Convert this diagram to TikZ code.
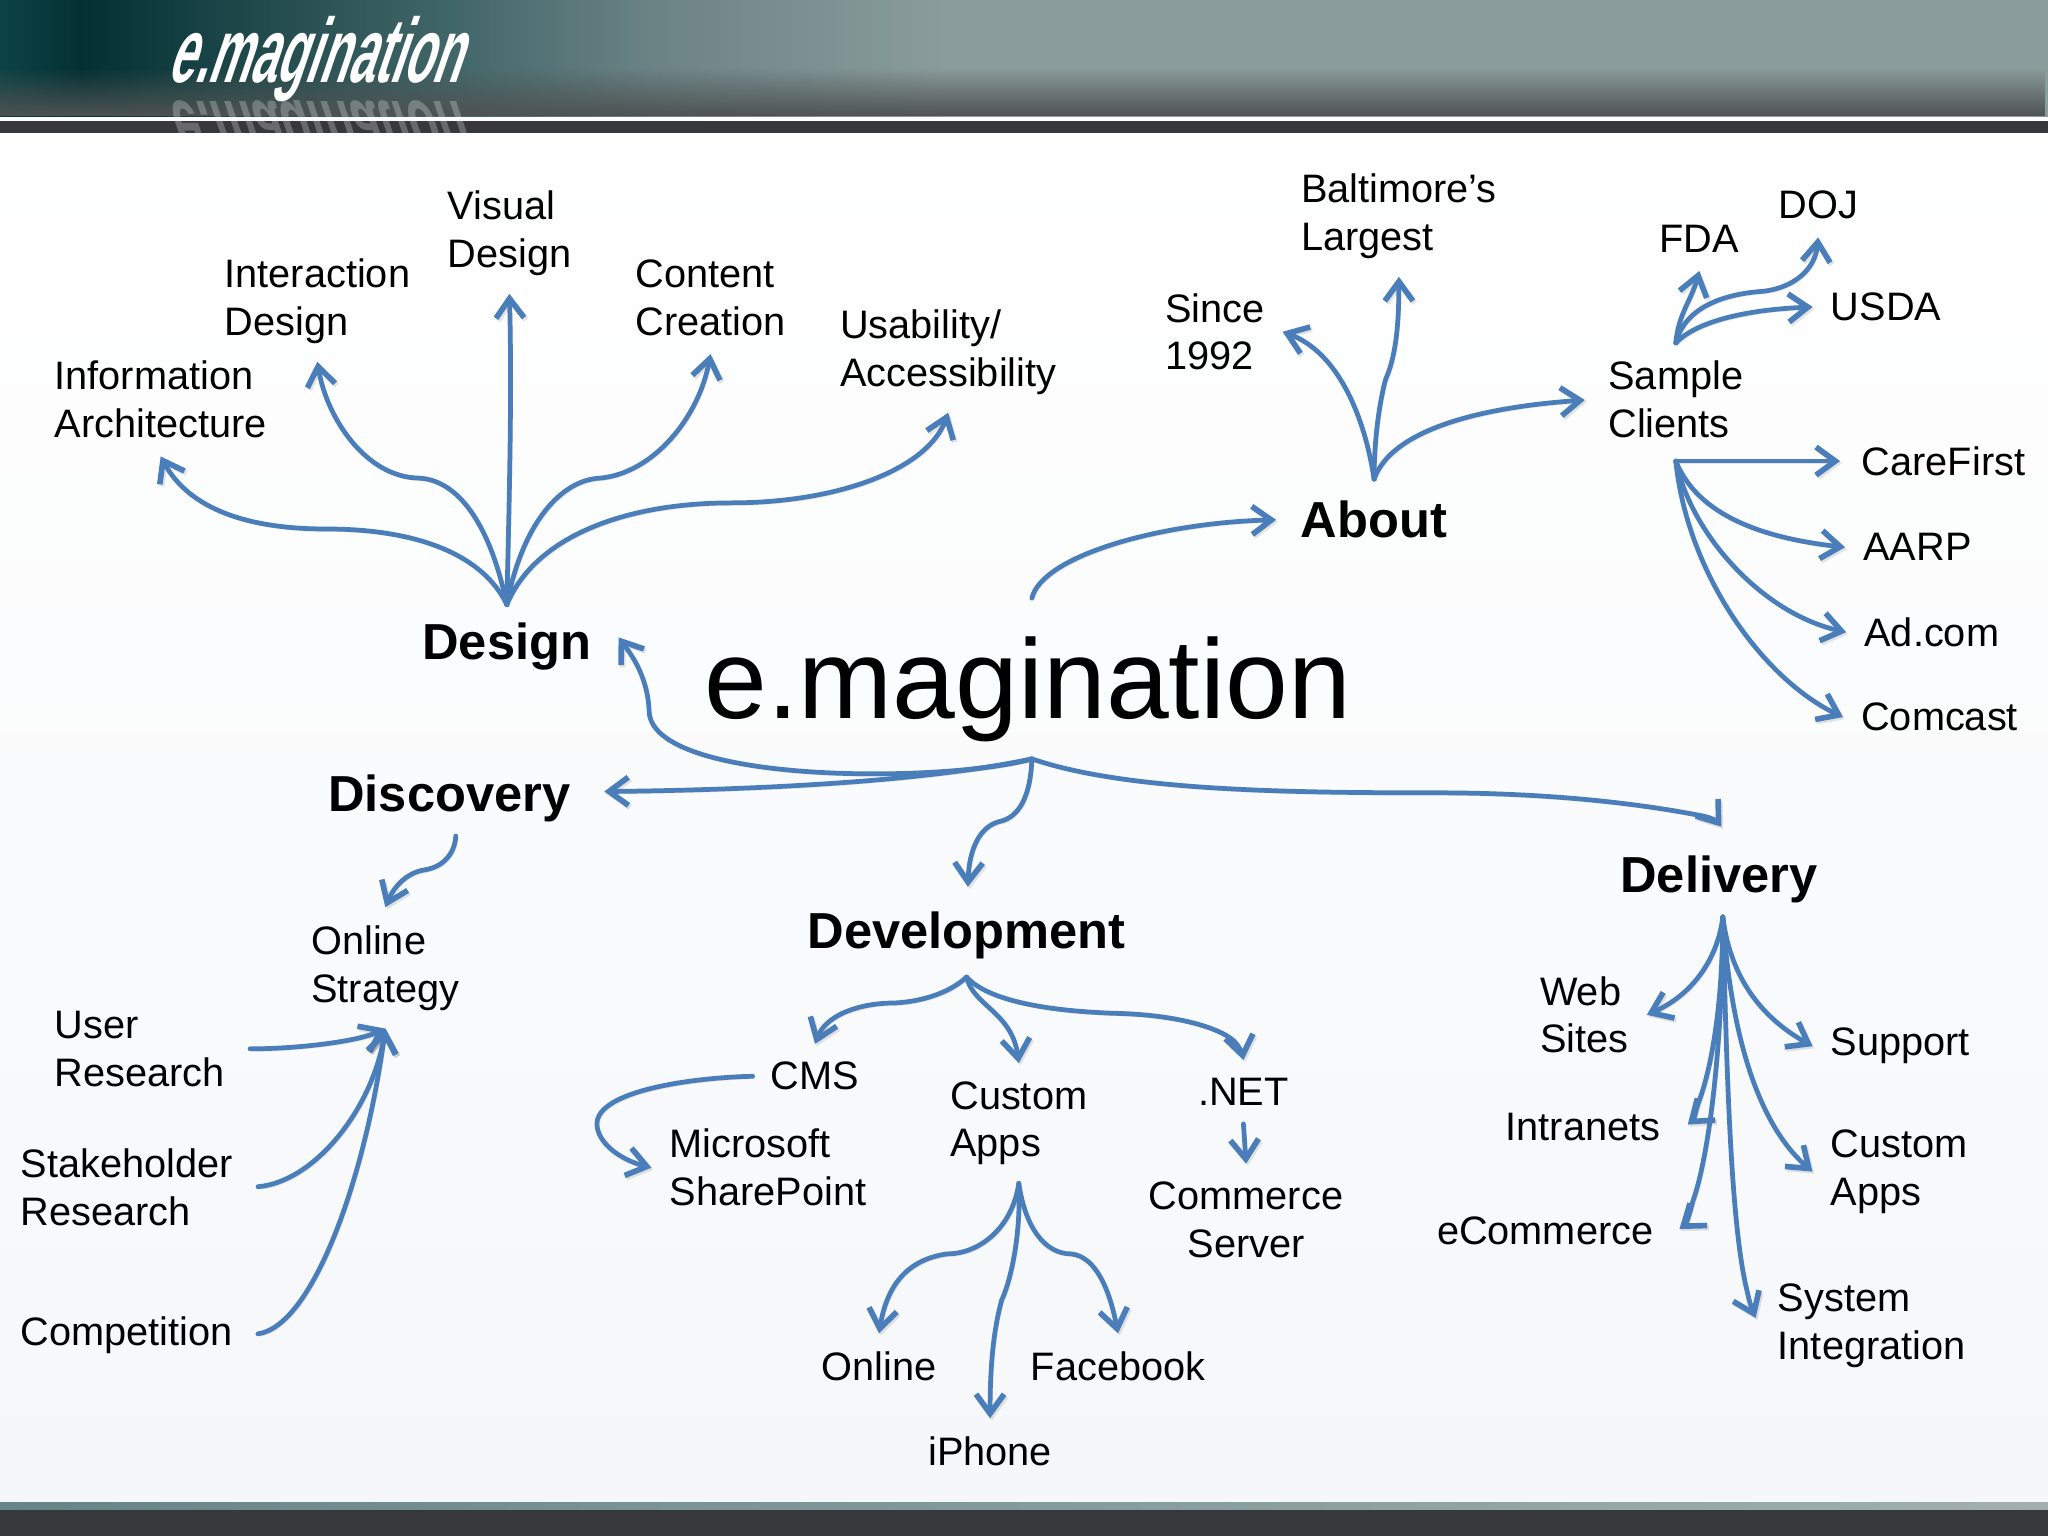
\documentclass[tikz,border=0pt]{standalone}
\usepackage{fontspec}
\usetikzlibrary{arrows.meta,fadings,calc}
\setmainfont{Liberation Sans}
\newfontfamily\logofont[FakeSlant=0.34,FakeStretch=0.52]{Liberation Sans Bold}
\definecolor{linkblue}{HTML}{4A7EBB}
\definecolor{bardark}{HTML}{36383A}
\definecolor{bodylow}{HTML}{F5F7F9}
\definecolor{fadegrey}{HTML}{4E5352}
\definecolor{banda}{HTML}{0D4345}
\definecolor{bandb}{HTML}{033033}
\definecolor{bandc}{HTML}{416668}
\definecolor{bandd}{HTML}{6C8386}
\definecolor{bande}{HTML}{8A9C9B}
\pgfdeclarehorizontalshading{bandshade}{100bp}{color(0bp)=(banda);color(25bp)=(banda);color(27bp)=(bandb);color(36bp)=(bandc);color(41bp)=(bandd);color(48bp)=(bande);color(100bp)=(bande)}
\begin{document}
\begin{tikzpicture}[x=0.1306mm,y=-0.1306mm,
    lbl/.style={inner sep=5pt,align=left,font=\fontsize{11.3}{13.6}\selectfont},
    head/.style={inner sep=5pt,font=\fontsize{14.4}{17}\selectfont\bfseries},
    link/.style={draw=linkblue,line width=1.35pt,line cap=round,-{Straight Barb[length=5.5pt,width=8pt,line width=1.6pt]},
        preaction={draw=black,opacity=0.1,transform canvas={xshift=0.5pt,yshift=-0.6pt}}}]
    \useasboundingbox (0,0) rectangle (1568,1176);
    \shade[top color=white,bottom color=bodylow] (0,100) rectangle (1568,1150);
    \shade[shading=bandshade] (0,0) rectangle (1568,89);
    \fill[fadegrey,path fading=north] (0,52) rectangle (1568,89);
    \fill[bardark] (0,92.5) rectangle (1568,102);
    \shade[left color=bandc!80!white,right color=bande!80!white] (0,1150) rectangle (1568,1156);
    \fill[bardark] (0,1156) rectangle (1568,1176);
    \node[inner sep=0pt,anchor=base west,text=white,font=\logofont\fontsize{26}{26}\selectfont] (logo) at (127,63) {e.magination};
    \begin{scope}
        \clip (0,77) rectangle (1568,102);
        \node[inner sep=0pt,anchor=base west,text=white,opacity=0.25,font=\logofont\fontsize{26}{26}\selectfont] (logoecho) at (127,78) {\scalebox{1}[-1]{e.magination}};
    \end{scope}
    \node[inner sep=0pt,font=\fontsize{32.1}{36}\selectfont] (emag) at (787,528) {e.magination};
    \coordinate (emagtop) at (790,458);
    \coordinate (emaghub) at (790,581);
    \node[head] (design) at (388,495) {Design};
    \node[head] (about) at (1052,398) {About};
    \node[head] (discovery) at (344,611) {Discovery};
    \node[head] (development) at (740,716) {Development};
    \node[head] (delivery) at (1316,673) {Delivery};
    \coordinate (abouthub) at ($(about.north)+(0,-3)$);
    \coordinate (deliveryhub) at ($(delivery.south)+(3,-3)$);
    \node[lbl] (infoarch) at (123,306) {Information\\Architecture};
    \node[lbl] (interaction) at (243,230.5) {Interaction\\Design};
    \node[lbl] (visual) at (390,178.5) {Visual\\Design};
    \node[lbl] (content) at (544,228) {Content\\Creation};
    \node[lbl] (usability) at (726,269.5) {Usability/\\Accessibility};
    \node[lbl] (since) at (930,254) {Since\\1992};
    \node[lbl] (largest) at (1071,165.5) {Baltimore’s\\Largest};
    \node[lbl] (sample) at (1283,306) {Sample\\Clients};
    \node[lbl] (fda) at (1301,183) {FDA};
    \node[lbl] (doj) at (1392,157) {DOJ};
    \node[lbl] (usda) at (1444,235) {USDA};
    \node[lbl] (carefirst) at (1488,353) {CareFirst};
    \node[lbl] (aarp) at (1468,419) {AARP};
    \node[lbl] (adcom) at (1479,484) {Ad.com};
    \node[lbl] (comcast) at (1485,549) {Comcast};
    \coordinate (samplelow) at (sample.south |- carefirst.west);
    \node[lbl] (strategy) at (295,741) {Online\\Strategy};
    \node[lbl] (user) at (107,803) {User\\Research};
    \node[lbl] (stake) at (97,909) {Stakeholder\\Research};
    \node[lbl] (competition) at (97,1022) {Competition};
    \node[lbl] (cms) at (624,824) {CMS};
    \node[lbl] (sharepoint) at (588,894) {Microsoft\\SharePoint};
    \node[lbl] (customdev) at (780,860) {Custom\\Apps};
    \node[lbl] (net) at (952,836) {.NET};
    \node[lbl,align=center] (commerce) at (954,934) {Commerce\\Server};
    \node[lbl] (online) at (673,1046) {Online};
    \node[lbl] (facebook) at (856,1046) {Facebook};
    \node[lbl] (iphone) at (758,1111) {iPhone};
    \node[lbl] (web) at (1213,777) {Web\\Sites};
    \node[lbl] (intranets) at (1212,863) {Intranets};
    \node[lbl] (ecommerce) at (1183,942) {eCommerce};
    \node[lbl] (support) at (1455,801) {Support};
    \node[lbl] (customdel) at (1454,897) {Custom\\Apps};
    \node[lbl] (system) at (1433,1015) {System\\Integration};
    \draw[link] (emagtop) .. controls (798,425) and (890,400) .. ($(about.west)+(-5,0)$);
    \draw[link] (emaghub) .. controls (720,600) and (500,600) .. (497,545) .. controls (496,515) and (480,497) .. ($(design.east)+(7,-7)$);
    \draw[link] (emaghub) .. controls (700,600) and (560,605) .. ($(discovery.east)+(12,-5)$);
    \draw[link] (emaghub) .. controls (789,610) and (780,626) .. (765,629) .. controls (750,633) and (742,650) .. ($(development.north)+(1,-5)$);
    \draw[link] (emaghub) .. controls (860,605) and (980,607) .. (1100,607) .. controls (1200,607) and (1270,618) .. (1305,625) .. controls (1310,626) and (1315,629) .. ($(delivery.north)+(2,-8)$);
    \draw[link] (design.north) .. controls (370,425) and (320,405) .. (250,405) .. controls (190,405) and (145,390) .. (infoarch.south);
    \draw[link] (design.north) .. controls (375,400) and (350,367) .. (320,366) .. controls (280,365) and (250,320) .. (interaction.south);
    \draw[link] (design.north) .. controls (390,380) and (392,300) .. (visual.south);
    \draw[link] (design.north) .. controls (400,400) and (430,367) .. (460,366) .. controls (500,362) and (535,320) .. (content.south);
    \draw[link] (design.north) .. controls (410,410) and (480,385) .. (560,385) .. controls (640,385) and (710,360) .. (usability.south);
    \draw[link] (abouthub) .. controls (1045,320) and (1025,270) .. (since.east);
    \draw[link] (abouthub) .. controls (1052,330) and (1058,300) .. (1061,290) .. controls (1070,270) and (1071,240) .. (largest.south);
    \draw[link,shorten >=1.5pt] (abouthub) .. controls (1065,330) and (1130,312) .. (sample.west);
    \draw[link] (sample.north) .. controls (1285,240) and (1295,230) .. (fda.south);
    \draw[link] (sample.north) .. controls (1290,235) and (1320,225) .. (1350,223) .. controls (1375,220) and (1390,205) .. (doj.south);
    \draw[link] (sample.north) .. controls (1300,245) and (1340,237) .. (usda.west);
    \draw[link,shorten >=1pt] (samplelow) -- (carefirst.west);
    \draw[link] (samplelow) .. controls (1300,395) and (1350,412) .. (aarp.west);
    \draw[link] (samplelow) .. controls (1295,410) and (1350,470) .. (adcom.west);
    \draw[link] (samplelow) .. controls (1292,440) and (1350,520) .. (comcast.west);
    \draw[link] ($(discovery.south)+(5,-3)$) .. controls (348,655) and (338,664) .. (325,666) .. controls (312,668) and (302,678) .. (strategy.north);
    \draw[link,shorten <=2pt] (user.east) .. controls (230,803) and (275,797) .. (strategy.south);
    \draw[link,shorten <=2pt] (stake.east) .. controls (240,905) and (285,850) .. (strategy.south);
    \draw[link,shorten <=2pt] (competition.east) .. controls (240,1015) and (280,900) .. (strategy.south);
    \draw[link] (development.south) .. controls (725,762) and (700,768) .. (680,768) .. controls (655,769) and (632,778) .. (cms.north);
    \draw[link] (development.south) .. controls (745,770) and (775,775) .. (customdev.north);
    \draw[link] (development.south) .. controls (760,770) and (820,775) .. (860,776) .. controls (910,778) and (942,790) .. (948,801) .. controls (950,804) and (951,806) .. (net.north);
    \draw[link] (cms.west) .. controls (530,825) and (458,835) .. (457,860) .. controls (457,875) and (475,888) .. (sharepoint.west);
    \draw[link] (net.south) -- (commerce.north);
    \draw[link] (customdev.south) .. controls (775,940) and (750,960) .. (725,960) .. controls (690,965) and (678,990) .. (online.north);
    \draw[link] (customdev.south) .. controls (782,950) and (772,985) .. (767,995) .. controls (760,1020) and (758,1050) .. (iphone.north);
    \draw[link] (customdev.south) .. controls (785,940) and (800,960) .. (820,960) .. controls (840,962) and (850,990) .. (facebook.north);
    \draw[link] (deliveryhub) .. controls (1315,735) and (1295,762) .. (web.east);
    \draw[link] (deliveryhub) .. controls (1319,770) and (1310,820) .. (1300,845) .. controls (1298,851) and (1297,857) .. ($(intranets.east)+(7,-2)$);
    \draw[link] (deliveryhub) .. controls (1319,790) and (1310,880) .. (1296,920) .. controls (1294,928) and (1291,937) .. ($(ecommerce.east)+(6,-1)$);
    \draw[link] (deliveryhub) .. controls (1325,750) and (1350,780) .. (support.west);
    \draw[link] (deliveryhub) .. controls (1325,790) and (1345,860) .. (customdel.west);
    \draw[link] (deliveryhub) .. controls (1322,820) and (1325,940) .. (1338,990) .. controls (1339,996) and (1342,1004) .. ($(system.west)+(-3,-6)$);
\end{tikzpicture}
\end{document}
